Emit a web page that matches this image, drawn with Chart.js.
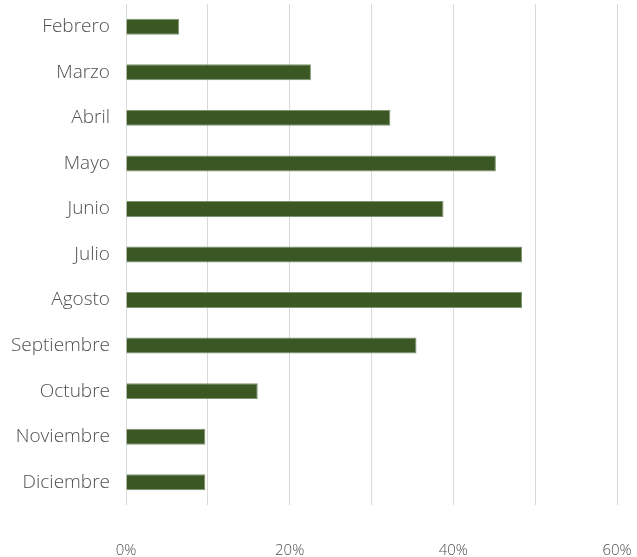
<!DOCTYPE html>
<html>
<head>
<meta charset="utf-8">
<script src="https://cdn.jsdelivr.net/npm/chart.js@4"></script>
<style>
  html, body { margin: 0; padding: 0; background: #fff; }
  #wrap { width: 637px; height: 557px; position: relative; }
</style>
</head>
<body>
<div id="wrap"><canvas id="chart"></canvas></div>
<script>
const months = ['Febrero', 'Marzo', 'Abril', 'Mayo', 'Junio', 'Julio', 'Agosto',
    'Septiembre', 'Octubre', 'Noviembre', 'Diciembre'];
const shares = [6.5, 22.6, 32.3, 45.2, 38.8, 48.4, 48.4, 35.5, 16.1, 9.7, 9.7];
const axisMax = 60;

const labelFont = { family: "'Open Sans', 'Segoe UI', sans-serif", weight: '300' };

let ctx = document.getElementById('chart');
let myChart = new Chart(ctx, {
    type: 'bar',
    data: {
        labels: months,
        datasets: [{
            data: shares,
            backgroundColor: '#3b5724',
            borderColor: '#7f9470',
            borderWidth: 1,
            categoryPercentage: 1,
            barPercentage: 0.35
        }]
    },
    options: {
        indexAxis: 'y',
        responsive: true,
        maintainAspectRatio: false,
        animation: false,
        layout: { padding: { top: 4, right: 20, left: 0, bottom: 0 } },
        plugins: {
            legend: { display: false },
            tooltip: { enabled: false }
        },
        scales: {
            x: {
                min: 0,
                max: axisMax,
                border: { display: false },
                grid: { color: '#d9d9d9', lineWidth: 1, drawTicks: false },
                ticks: {
                    stepSize: 10,
                    maxRotation: 0,
                    autoSkip: false,
                    padding: 37,
                    color: '#505050',
                    font: Object.assign({ size: 15 }, labelFont),
                    callback: function (v) { return v % 20 === 0 ? v + '%' : ''; }
                },
                // tick padding also pads the sides; drop that
                afterFit: function (scale) {
                    scale.height = 52;
                    scale.paddingLeft = 0;
                    scale.paddingRight = 0;
                }
            },
            y: {
                border: { display: false },
                grid: { display: false, drawTicks: false },
                ticks: {
                    padding: 16,
                    color: '#505050',
                    font: Object.assign({ size: 19 }, labelFont)
                },
                afterFit: function (scale) {
                    scale.width = 126;
                    scale.paddingTop = 0;
                    scale.paddingBottom = 0;
                }
            }
        }
    }
});
</script>
</body>
</html>
